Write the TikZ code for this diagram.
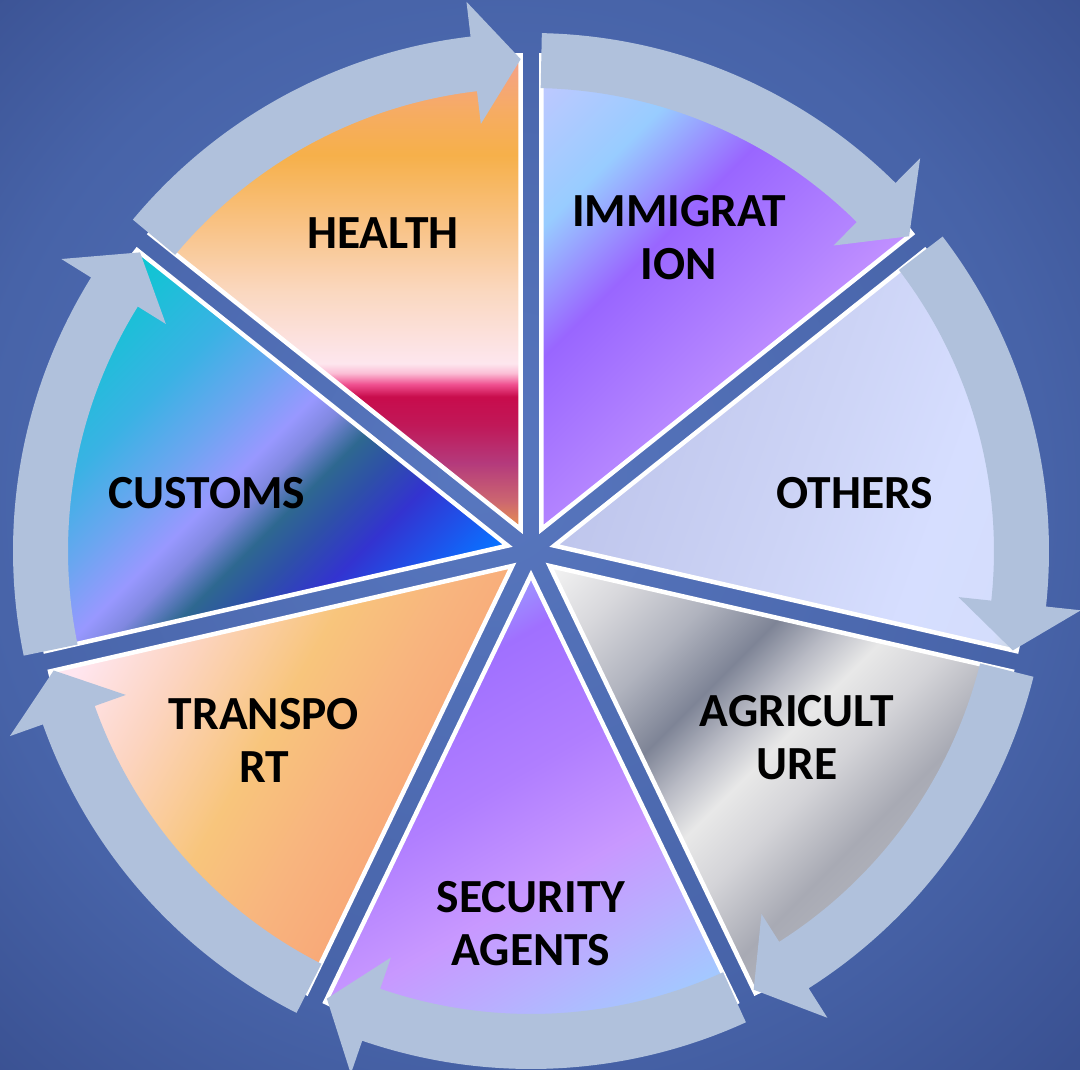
\documentclass[tikz,border=0pt]{standalone}
\usepackage{fontspec}
\setmainfont{Carlito}
\usepackage{tikz}

% background and ring
\definecolor{bgA}{HTML}{5877BF}
\definecolor{bgB}{HTML}{4763A8}
\definecolor{bgC}{HTML}{3A5192}
\definecolor{ringblue}{HTML}{B0C1DC}
\pgfdeclareradialshading{bgshade}{\pgfpoint{-3bp}{3bp}}{color(0bp)=(bgA); color(25bp)=(bgB); color(36bp)=(bgC); color(50bp)=(bgC)}

% health
\definecolor{hA}{HTML}{F4A08C}
\definecolor{hB}{HTML}{F6AC62}
\definecolor{hC}{HTML}{F6B04A}
\definecolor{hD}{HTML}{F9C48A}
\definecolor{hE}{HTML}{FAD8C0}
\definecolor{hF}{HTML}{FDE6EE}
\definecolor{hG}{HTML}{FBBFD6}
\definecolor{hH}{HTML}{F05090}
\definecolor{hI}{HTML}{C80C4C}
\definecolor{hJ}{HTML}{C01858}
\definecolor{hK}{HTML}{B43A7C}
\definecolor{hL}{HTML}{CC6670}
\definecolor{hM}{HTML}{E8944E}
\pgfdeclarehorizontalshading{healthshade}{100bp}{color(0bp)=(hA); color(25bp)=(hA); color(31bp)=(hB); color(35.5bp)=(hC); color(43.5bp)=(hD); color(50bp)=(hE); color(57.5bp)=(hF); color(58.5bp)=(hG); color(59.7bp)=(hH); color(61bp)=(hI); color(64bp)=(hJ); color(68bp)=(hK); color(72bp)=(hL); color(75bp)=(hM); color(100bp)=(hM)}

% immigration
\definecolor{iA}{HTML}{C4C8FF}
\definecolor{iB}{HTML}{98CCFF}
\definecolor{iC}{HTML}{9966FF}
\definecolor{iD}{HTML}{B485FF}
\definecolor{iE}{HTML}{CC99FF}
\pgfdeclarehorizontalshading{immigshade}{100bp}{color(0bp)=(iA); color(15bp)=(iA); color(29bp)=(iB); color(40bp)=(iC); color(55bp)=(iD); color(65bp)=(iE); color(100bp)=(iE)}

% others
\definecolor{oA}{HTML}{B8BEE6}
\definecolor{oB}{HTML}{BAC1E9}
\definecolor{oC}{HTML}{CCD3F5}
\definecolor{oD}{HTML}{D6DEFF}
\definecolor{oE}{HTML}{D4DDFC}
\definecolor{oF}{HTML}{C2D2C6}
\pgfdeclarehorizontalshading{othersshade}{100bp}{color(0bp)=(oA); color(22bp)=(oB); color(50bp)=(oC); color(66bp)=(oD); color(76bp)=(oE); color(81bp)=(oF); color(100bp)=(oF)}

% agriculture
\definecolor{aA}{HTML}{F8F8F8}
\definecolor{aB}{HTML}{F2F2F2}
\definecolor{aC}{HTML}{D8D8DC}
\definecolor{aD}{HTML}{B0B3BE}
\definecolor{aE}{HTML}{7E8496}
\definecolor{aF}{HTML}{B8BAC4}
\definecolor{aG}{HTML}{E8E8E8}
\definecolor{aH}{HTML}{D4D4D8}
\definecolor{aI}{HTML}{A8AAB4}
\definecolor{aJ}{HTML}{B6B8C0}
\pgfdeclarehorizontalshading{agrishade}{100bp}{color(0bp)=(aA); color(15bp)=(aB); color(22bp)=(aC); color(30bp)=(aD); color(37bp)=(aE); color(42bp)=(aF); color(47bp)=(aG); color(53bp)=(aH); color(61bp)=(aI); color(70bp)=(aJ); color(100bp)=(aJ)}

% security agents
\definecolor{sA}{HTML}{9C9CFF}
\definecolor{sB}{HTML}{A070FF}
\definecolor{sC}{HTML}{B07EFF}
\definecolor{sD}{HTML}{C898FF}
\definecolor{sE}{HTML}{B8B0FF}
\definecolor{sF}{HTML}{A0CCFF}
\pgfdeclarehorizontalshading{securshade}{100bp}{color(0bp)=(sA); color(26bp)=(sA); color(32bp)=(sB); color(45bp)=(sC); color(57bp)=(sD); color(66bp)=(sE); color(76bp)=(sF); color(100bp)=(sF)}

% transport
\definecolor{tA}{HTML}{FFE8F2}
\definecolor{tB}{HTML}{FFE6F0}
\definecolor{tC}{HTML}{FCD4C0}
\definecolor{tD}{HTML}{F8C57C}
\definecolor{tE}{HTML}{F8B47E}
\definecolor{tF}{HTML}{F8A878}
\definecolor{tG}{HTML}{F8AA7A}
\pgfdeclarehorizontalshading{transpshade}{100bp}{color(0bp)=(tA); color(24bp)=(tB); color(34bp)=(tC); color(46bp)=(tD); color(56bp)=(tE); color(65bp)=(tF); color(100bp)=(tG)}

% customs
\definecolor{cA}{HTML}{00CCCC}
\definecolor{cB}{HTML}{04CACE}
\definecolor{cC}{HTML}{3AB2E4}
\definecolor{cD}{HTML}{6AA6F0}
\definecolor{cE}{HTML}{9898FF}
\definecolor{cF}{HTML}{8088E0}
\definecolor{cG}{HTML}{2E6890}
\definecolor{cH}{HTML}{2E50A8}
\definecolor{cI}{HTML}{3333D0}
\definecolor{cJ}{HTML}{2050E8}
\definecolor{cK}{HTML}{0A70FF}
\pgfdeclarehorizontalshading{customsshade}{100bp}{color(0bp)=(cA); color(23bp)=(cB); color(37bp)=(cC); color(44bp)=(cD); color(50bp)=(cE); color(53bp)=(cF); color(57bp)=(cG); color(61bp)=(cH); color(66bp)=(cI); color(71bp)=(cJ); color(76bp)=(cK); color(100bp)=(cK)}

\begin{document}
\begin{tikzpicture}[x=1pt,y=1pt,
    slicestyle/.style={draw=white, line width=4.5pt},
    ringarrow/.style={fill=ringblue},
    lbl/.style={font=\bfseries\fontsize{47.5}{53}\selectfont, align=center, text=black}]
    \useasboundingbox (-531,-519) rectangle (549,551);
    \shade[shading=bgshade] (-531,-519) rectangle (549,551);
    % the seven slices
    \shadedraw[slicestyle, shading=immigshade, shading angle=-45] (64.2857:24) -- ++(90:474) arc[start angle=90, end angle=38.5714, radius=474] -- cycle;
    \shadedraw[slicestyle, shading=othersshade, shading angle=-20] (12.8571:24) -- ++(38.5714:474) arc[start angle=38.5714, end angle=-12.8571, radius=474] -- cycle;
    \shadedraw[slicestyle, shading=agrishade, shading angle=-45] (-38.5714:24) -- ++(-12.8571:474) arc[start angle=-12.8571, end angle=-64.2857, radius=474] -- cycle;
    \shadedraw[slicestyle, shading=securshade, shading angle=-60] (-90:24) -- ++(-64.2857:474) arc[start angle=-64.2857, end angle=-115.7143, radius=474] -- cycle;
    \shadedraw[slicestyle, shading=transpshade, shading angle=-30] (-141.4286:24) -- ++(-115.7143:474) arc[start angle=-115.7143, end angle=-167.1429, radius=474] -- cycle;
    \shadedraw[slicestyle, shading=customsshade, shading angle=-45] (167.1429:24) -- ++(192.8571:474) arc[start angle=192.8571, end angle=141.4286, radius=474] -- cycle;
    \shadedraw[slicestyle, shading=healthshade, shading angle=-90] (115.7143:24) -- ++(141.4286:474) arc[start angle=141.4286, end angle=90, radius=474] -- cycle;
    % ring of arrows
    \foreach \k in {0,...,6}{
        \pgfmathsetmacro{\arrS}{90-\k*360/7-1.2}
        \pgfmathsetmacro{\arrT}{90-(\k+1)*360/7+1.2}
        \pgfmathsetmacro{\arrB}{\arrT+5.5}
        \fill[ringarrow] (\arrS:518) arc[start angle=\arrS, end angle=\arrB, radius=518] -- (\arrB:553) -- (\arrT:492) -- (\arrB:430) -- (\arrB:463) arc[start angle=\arrB, end angle=\arrS, radius=463] -- cycle;
    }
    % labels
    \node[lbl] (immig) at (148,313) {IMMIGRAT\\ION};
    \node[lbl] (others) at (324,58) {OTHERS};
    \node[lbl] (agri) at (266,-187) {AGRICULT\\URE};
    \node[lbl] (secur) at (0,-373) {SECURITY\\AGENTS};
    \node[lbl] (transp) at (-267,-189) {TRANSPO\\RT};
    \node[lbl] (customs) at (-324,58) {CUSTOMS};
    \node[lbl] (health) at (-148,318) {HEALTH};
\end{tikzpicture}
\end{document}
